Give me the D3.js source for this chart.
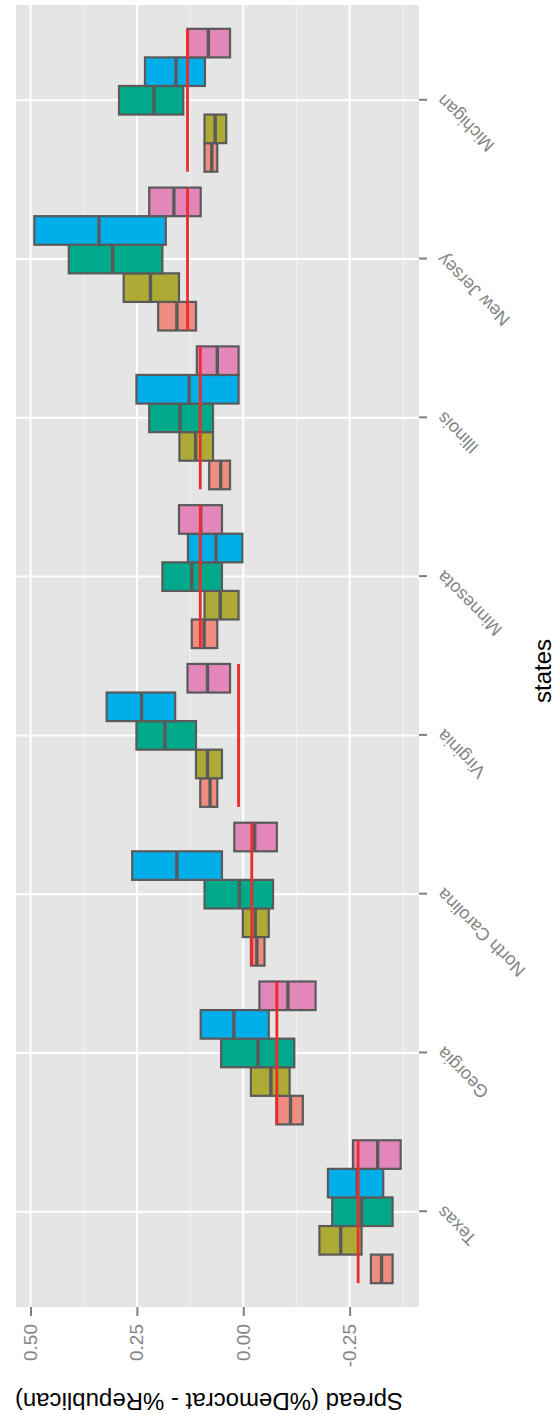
<!DOCTYPE html>
<html lang="en">
<head>
<meta charset="UTF-8">
<title>Spread by state</title>
<script src="https://d3js.org/d3.v7.min.js"></script>
<style>
    body { margin: 0; background: #fff; }
    text { font-family: "Liberation Sans", Arial, sans-serif; }
</style>
</head>
<body>
<script>
    const states = ["Texas", "Georgia", "North Carolina", "Virginia", "Minnesota", "Illinois", "New Jersey", "Michigan"];
    const groups = ["g1", "g2", "g3", "g4", "g5"];
    const colors = ["#EE8D80", "#ADAA35", "#00A98A", "#00AEEA", "#E387BA"];

    // [lower, median, upper] per state, one list per group
    const group1 = [[-0.351, -0.325, -0.300], [-0.140, -0.111, -0.078], [-0.050, -0.032, -0.018], [0.061, 0.078, 0.101],
                    [0.061, 0.092, 0.121], [0.031, 0.053, 0.080], [0.111, 0.156, 0.200], [0.061, 0.074, 0.091]];
    const group2 = [[-0.278, -0.229, -0.179], [-0.109, -0.065, -0.018], [-0.060, -0.028, 0.001], [0.050, 0.084, 0.111],
                    [0.011, 0.054, 0.091], [0.071, 0.112, 0.150], [0.151, 0.218, 0.281], [0.040, 0.066, 0.091]];
    const group3 = [[-0.351, -0.278, -0.209], [-0.120, -0.035, 0.052], [-0.070, 0.009, 0.091], [0.111, 0.184, 0.251],
                    [0.050, 0.121, 0.190], [0.071, 0.149, 0.221], [0.190, 0.307, 0.410], [0.141, 0.210, 0.292]];
    const group4 = [[-0.329, -0.268, -0.199], [-0.060, 0.022, 0.100], [0.050, 0.156, 0.261], [0.160, 0.239, 0.321],
                    [0.002, 0.064, 0.130], [0.011, 0.127, 0.251], [0.182, 0.339, 0.491], [0.090, 0.158, 0.231]];
    const group5 = [[-0.370, -0.316, -0.258], [-0.170, -0.105, -0.038], [-0.079, -0.027, 0.021], [0.031, 0.084, 0.131],
                    [0.050, 0.100, 0.151], [0.011, 0.061, 0.109], [0.100, 0.163, 0.221], [0.031, 0.082, 0.131]];
    // actual result per state (red line)
    const actual = [-0.270, -0.079, -0.020, 0.011, 0.101, 0.101, 0.131, 0.131];

    const yTicks = [0.5, 0.25, 0, -0.25];
    const yMinor = [0.375, 0.125, -0.125, -0.375];

    const width = 558;
    const height = 1414;

    // chart is laid out unrotated (states along x), then turned 90deg counter-clockwise
    const W = height, H = width;
    const panel = { left: 107, right: W - 5, top: 16, bottom: H - 139 };

    const svg = d3.select("body").append("svg")
        .attr("width", width)
        .attr("height", height);

    const g = svg.append("g")
        .attr("transform", `translate(0,${height}) rotate(-90)`);

    const boxes = [group1, group2, group3, group4, group5];

    const x = d3.scalePoint()
        .domain(states)
        .range([panel.left, panel.right])
        .padding(0.6);

    // ggplot style 5% expansion of the data range
    const ext = d3.extent(boxes.flat(2).concat(actual));
    const pad = (ext[1] - ext[0]) * 0.05;
    const y = d3.scaleLinear()
        .domain([ext[0] - pad, ext[1] + pad])
        .range([panel.bottom, panel.top]);

    const groupWidth = x.step() * 0.9;
    const bw = groupWidth / groups.length;

    // panel + grid
    g.append("rect")
        .attr("x", panel.left)
        .attr("y", panel.top)
        .attr("width", panel.right - panel.left)
        .attr("height", panel.bottom - panel.top)
        .attr("fill", "#E5E5E5");

    g.append("g").selectAll("line")
        .data(yMinor)
        .join("line")
        .attr("x1", panel.left).attr("x2", panel.right)
        .attr("y1", d => y(d)).attr("y2", d => y(d))
        .attr("stroke", "#F2F2F2")
        .attr("stroke-width", 1);

    g.append("g").selectAll("line")
        .data(yTicks)
        .join("line")
        .attr("x1", panel.left).attr("x2", panel.right)
        .attr("y1", d => y(d)).attr("y2", d => y(d))
        .attr("stroke", "#fff")
        .attr("stroke-width", 2);

    g.append("g").selectAll("line")
        .data(states)
        .join("line")
        .attr("x1", d => x(d)).attr("x2", d => x(d))
        .attr("y1", panel.top).attr("y2", panel.bottom)
        .attr("stroke", "#fff")
        .attr("stroke-width", 2);

    // boxes
    boxes.forEach((rows, gi) => {
        const grp = g.append("g").attr("class", "box " + groups[gi]);
        rows.forEach((r, si) => {
            const cx = x(states[si]) + (gi - (groups.length - 1) / 2) * bw;
            grp.append("rect")
                .attr("x", cx - bw / 2)
                .attr("y", y(r[2]))
                .attr("width", bw)
                .attr("height", y(r[0]) - y(r[2]))
                .attr("fill", colors[gi])
                .attr("stroke", "#5A5A5A")
                .attr("stroke-width", 2.2);
            grp.append("line")
                .attr("x1", cx - bw / 2)
                .attr("x2", cx + bw / 2)
                .attr("y1", y(r[1]))
                .attr("y2", y(r[1]))
                .attr("stroke", "#5A5A5A")
                .attr("stroke-width", 3.4);
        });
    });

    // actual results
    g.append("g").selectAll("line")
        .data(actual)
        .join("line")
        .attr("x1", (d, i) => x(states[i]) - groupWidth / 2)
        .attr("x2", (d, i) => x(states[i]) + groupWidth / 2)
        .attr("y1", d => y(d))
        .attr("y2", d => y(d))
        .attr("stroke", "#EE2A2A")
        .attr("stroke-width", 2.8);

    // axes
    const yAxis = g.append("g")
        .attr("transform", `translate(${panel.left},0)`)
        .call(d3.axisLeft(y).tickValues(yTicks).tickFormat(d => d.toFixed(2)).tickSize(9).tickPadding(8));
    yAxis.select(".domain").remove();
    yAxis.selectAll("line").attr("stroke", "#7F7F7F").attr("stroke-width", 2);
    yAxis.selectAll("text")
        .attr("fill", "#858585")
        .style("font-size", "19px")
        .style("font-family", '"Liberation Sans", Arial, sans-serif');

    const xAxis = g.append("g")
        .attr("transform", `translate(0,${panel.bottom})`)
        .call(d3.axisBottom(x).tickSize(8));
    xAxis.select(".domain").remove();
    xAxis.selectAll("line").attr("stroke", "#7F7F7F").attr("stroke-width", 2);
    xAxis.selectAll("text")
        .attr("x", 0)
        .attr("y", 0)
        .attr("dy", "0.35em")
        .attr("transform", "translate(2,21) rotate(-45)")
        .attr("fill", "#858585")
        .style("text-anchor", "end")
        .style("font-size", "18px")
        .style("font-family", '"Liberation Sans", Arial, sans-serif');

    // axis titles (kept just inside the edges)
    g.append("text")
        .attr("transform", `translate(21,209) rotate(-90)`)
        .attr("text-anchor", "middle")
        .attr("font-size", 24)
        .attr("fill", "#000")
        .text("Spread (%Democrat - %Republican)");

    g.append("text")
        .attr("x", 743)
        .attr("y", 551)
        .attr("text-anchor", "middle")
        .attr("font-size", 24)
        .attr("fill", "#000")
        .text("states");
</script>
</body>
</html>
